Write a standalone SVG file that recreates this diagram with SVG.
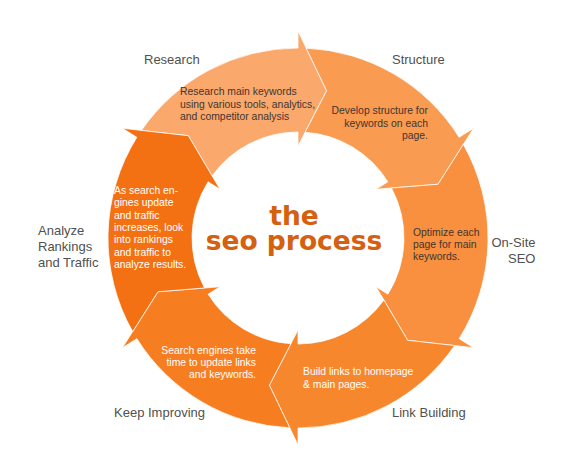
<svg xmlns="http://www.w3.org/2000/svg" width="583" height="469" viewBox="0 0 583 469">
<style>
.seg{stroke:#ffffff;stroke-opacity:0.75;stroke-width:1;stroke-linejoin:miter}
.lbl{font-family:"Liberation Sans",Arial,sans-serif;font-size:13px;fill:#505050}
.dsc{font-family:"Liberation Sans",Arial,sans-serif;font-size:10.4px}
.dk{fill:#3f3530}
.wt{fill:#ffffff}
.ttl{font-family:"DejaVu Sans",Verdana,sans-serif;font-weight:bold;font-size:26.5px;fill:#d5600f}
</style>
<rect width="583" height="469" fill="#ffffff"/>
<g id="research">
<path class="seg" fill="#fba86c" d="M141.38,130.44 A190,190 0 0 1 298,48 L298,31 L326.62,90.76 L298,146 L298,132 A106,106 0 0 0 212.09,175.9 L188.3,135.7 Z"/>
<text class="dsc dk" x="180" y="95">Research main keywords</text>
<text class="dsc dk" x="180" y="107.5">using various tools, analytics,</text>
<text class="dsc dk" x="180" y="120">and competitor analysis</text>
<text class="lbl" x="144" y="64">Research</text>
</g>
<g id="structure">
<path class="seg" fill="#f99b50" d="M306.22,48.18 A190,190 0 0 1 459.13,137.32 L473.55,128.31 L438.04,184.24 L376.02,189.25 L387.89,181.83 A106,106 0 0 0 305.14,132.24 L326.62,90.76 Z"/>
<g class="dsc dk" text-anchor="end">
<text x="428" y="114">Develop structure for</text>
<text x="428" y="126.5">keywords on each</text>
<text x="428" y="139">page.</text>
</g>
<text class="lbl" x="392" y="64">Structure</text>
</g>
<g id="onsite">
<path class="seg" fill="#f9903f" d="M463.33,144.38 A190,190 0 0 1 459.13,338.68 L473.55,347.69 L407.7,340.3 L376.02,286.75 L387.89,294.17 A106,106 0 0 0 391.47,188.01 L438.04,184.24 Z"/>
<text class="dsc dk" x="413" y="236">Optimize each</text>
<text class="dsc dk" x="413" y="248">page for main</text>
<text class="dsc dk" x="413" y="260">keywords.</text>
<g class="lbl" text-anchor="end">
<text x="535.5" y="247">On-Site</text>
<text x="535.5" y="263">SEO</text>
</g>
</g>
<g id="linkbuilding">
<path class="seg" fill="#f7872d" d="M454.62,345.56 A190,190 0 0 1 298,428 L298,445 L269.38,385.24 L298,330 L298,344 A106,106 0 0 0 383.91,300.1 L407.7,340.3 Z"/>
<text class="dsc wt" x="303" y="375">Build links to homepage</text>
<text class="dsc wt" x="303" y="388">&amp; main pages.</text>
<text class="lbl" x="392" y="417">Link Building</text>
</g>
<g id="keepimproving">
<path class="seg" fill="#f67e21" d="M289.78,427.82 A190,190 0 0 1 136.87,338.68 L122.45,347.69 L157.96,291.76 L219.98,286.75 L208.11,294.17 A106,106 0 0 0 290.86,343.76 L269.38,385.24 Z"/>
<g class="dsc wt" text-anchor="end">
<text x="256" y="354">Search engines take</text>
<text x="256" y="366">time to update links</text>
<text x="256" y="378">and keywords.</text>
</g>
<text class="lbl" x="114" y="417">Keep Improving</text>
</g>
<g id="analyze">
<path class="seg" fill="#f37112" d="M132.67,331.62 A190,190 0 0 1 136.87,137.32 L122.45,128.31 L188.3,135.7 L219.98,189.25 L208.11,181.83 A106,106 0 0 0 204.53,287.99 L157.96,291.76 Z"/>
<g class="dsc wt">
<text x="114" y="194">As search en-</text>
<text x="114" y="206.3">gines update</text>
<text x="114" y="218.6">and traffic</text>
<text x="114" y="230.9">increases, look</text>
<text x="114" y="243.2">into rankings</text>
<text x="114" y="255.5">and traffic to</text>
<text x="114" y="267.8">analyze results.</text>
</g>
<g class="lbl">
<text x="38" y="235">Analyze</text>
<text x="38" y="251">Rankings</text>
<text x="38" y="267">and Traffic</text>
</g>
</g>
<g id="title" class="ttl" text-anchor="middle">
<text x="294" y="225">the</text>
<text x="294" y="250">seo process</text>
</g>
<g id="connectors"/>
</svg>
